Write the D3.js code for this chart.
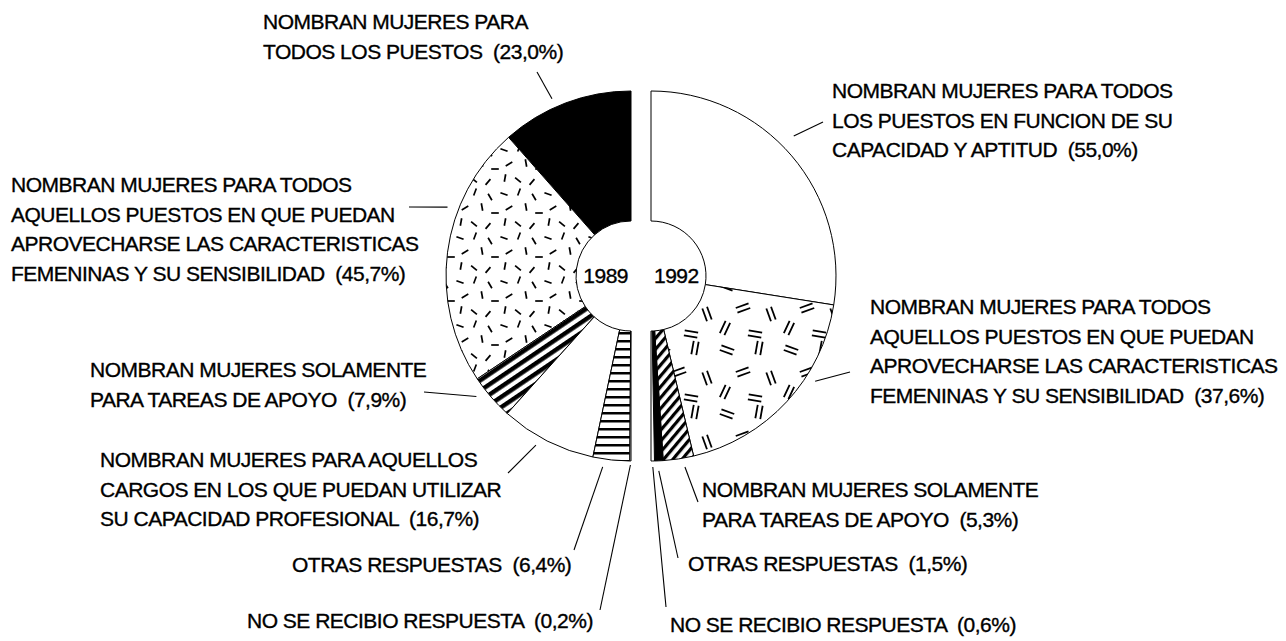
<!DOCTYPE html>
<html>
<head>
<meta charset="utf-8">
<script src="https://cdn.jsdelivr.net/npm/d3@7"></script>
<style>
  body { margin: 0; background: #fff; }
  text { font-family: 'Liberation Sans', Arial, sans-serif; font-size: 21px; letter-spacing: -0.5px;
         fill: #000; stroke: #000; stroke-width: 0.35px; white-space: pre; }
</style>
</head>
<body>
<div id="chart"></div>
<script>
/* global d3 */

// Data
const years = ['1989', '1992']

const answers1989 = [
  ['NOMBRAN MUJERES PARA', 'TODOS LOS PUESTOS'],
  ['NOMBRAN MUJERES PARA TODOS', 'AQUELLOS PUESTOS EN QUE PUEDAN', 'APROVECHARSE LAS CARACTERISTICAS', 'FEMENINAS Y SU SENSIBILIDAD'],
  ['NOMBRAN MUJERES SOLAMENTE', 'PARA TAREAS DE APOYO'],
  ['NOMBRAN MUJERES PARA AQUELLOS', 'CARGOS EN LOS QUE PUEDAN UTILIZAR', 'SU CAPACIDAD PROFESIONAL'],
  ['OTRAS RESPUESTAS'],
  ['NO SE RECIBIO RESPUESTA']
]
const values1989 = [23.0, 45.7, 7.9, 16.7, 6.4, 0.2]

const answers1992 = [
  ['NOMBRAN MUJERES PARA TODOS', 'LOS PUESTOS EN FUNCION DE SU', 'CAPACIDAD Y APTITUD'],
  ['NOMBRAN MUJERES PARA TODOS', 'AQUELLOS PUESTOS EN QUE PUEDAN', 'APROVECHARSE LAS CARACTERISTICAS', 'FEMENINAS Y SU SENSIBILIDAD'],
  ['NOMBRAN MUJERES SOLAMENTE', 'PARA TAREAS DE APOYO'],
  ['OTRAS RESPUESTAS'],
  ['NO SE RECIBIO RESPUESTA']
]
const values1992 = [55.0, 37.6, 5.3, 1.5, 0.6]

// Canvas
const width = 1286,
      height = 641,
      cy = 276,
      outerR = 185,
      innerR = 55,
      lineH = 29.5

const fills1989 = ['#000', 'url(#dashes)', 'url(#thick)', '#fff', 'url(#hlines)', '#fff']
const fills1992 = ['#fff', 'url(#pairs)', 'url(#hatch)', '#000', '#fff']

// label layout: [x, first baseline], leader: [t within slice, radius, endX, endY]
const labelPos1989 = [[263, 29], [11, 192], [90, 377], [100, 467], [292, 572], [247, 628]]
const leaders1989 = [[0.58, 194, 537, 72], [0.34, 196, 409, 207], [0.29, 196, 424, 392],
                     [0.42, 194, 508, 473], [0.3, 193, 574, 550], [0.5, 189, 600, 610]]
const labelPos1992 = [[832, 98], [870, 314], [702, 497], [688, 571], [670, 632]]
const leaders1992 = [[0.46, 200, 823, 122], [0.35, 195, 850, 372], [0.34, 194, 698, 502],
                     [0.55, 195, 678, 558], [0.5, 191, 666, 607]]

let svg = d3.select('#chart')
  .append('svg')
  .attr('width', width)
  .attr('height', height)

let defs = svg.append('defs')

// short scattered dashes
const dashMarks = [[5, 6, 20], [20, 4, 110], [35, 9, 60], [10, 20, 150], [27, 19, 80],
                   [40, 25, 0], [6, 34, 100], [19, 36, 40], [33, 38, 130]]
let dashes = defs.append('pattern')
  .attr('id', 'dashes')
  .attr('patternUnits', 'userSpaceOnUse')
  .attr('width', 44).attr('height', 44)
dashes.append('rect').attr('width', 44).attr('height', 44).attr('fill', '#fff')
dashMarks.forEach(([x, y, a]) => {
  let r = a * Math.PI / 180, l = 3.8
  dashes.append('line')
    .attr('x1', x - l * Math.cos(r)).attr('y1', y - l * Math.sin(r))
    .attr('x2', x + l * Math.cos(r)).attr('y2', y + l * Math.sin(r))
    .attr('stroke', '#000').attr('stroke-width', 1.7)
})

// "=" pairs
const pairMarks = [[12, 10, 20], [44, 8, 100], [28, 32, 160], [56, 38, 70], [10, 52, 115], [40, 58, 10]]
let pairs = defs.append('pattern')
  .attr('id', 'pairs')
  .attr('patternUnits', 'userSpaceOnUse')
  .attr('width', 64).attr('height', 64)
pairs.append('rect').attr('width', 64).attr('height', 64).attr('fill', '#fff')
pairMarks.forEach(([x, y, a]) => {
  let r = a * Math.PI / 180, l = 6.8, o = 2.5
  ;[-o, o].forEach(off => {
    let ox = -Math.sin(r) * off, oy = Math.cos(r) * off
    pairs.append('line')
      .attr('x1', x + ox - l * Math.cos(r)).attr('y1', y + oy - l * Math.sin(r))
      .attr('x2', x + ox + l * Math.cos(r)).attr('y2', y + oy + l * Math.sin(r))
      .attr('stroke', '#000').attr('stroke-width', 1.8)
  })
})

// striped patterns
let stripes = (id, period, sw, angle) => {
  let p = defs.append('pattern')
    .attr('id', id)
    .attr('patternUnits', 'userSpaceOnUse')
    .attr('width', period).attr('height', period)
    .attr('patternTransform', `rotate(${angle})`)
  p.append('rect').attr('width', period).attr('height', period).attr('fill', '#fff')
  p.append('rect').attr('y', 0).attr('width', period).attr('height', sw).attr('fill', '#000')
}
stripes('thick', 8.5, 4.4, -34)
stripes('hlines', 8, 2.5, 0)
stripes('hatch', 7, 3.2, -50)

let fmt = v => d3.format('.1f')(v).replace('.', ',')

let arc = d3.arc()

let drawHalf = (cx, values, answers, fills, sign, labelPos, leaders, year) => {
  let pie = d3.pie().sort(null).value(d => d)
    .startAngle(0).endAngle(sign * Math.PI)
  let slices = pie(values)

  let g = svg.append('g').attr('transform', `translate(${cx}, ${cy})`)
  g.selectAll('path')
    .data(slices)
    .enter()
    .append('path')
    .attr('d', d => arc({ innerRadius: innerR, outerRadius: outerR,
                         startAngle: Math.min(d.startAngle, d.endAngle),
                         endAngle: Math.max(d.startAngle, d.endAngle) }))
    .attr('fill', (d, i) => fills[i])
    .attr('stroke', '#000')
    .attr('stroke-width', 1)

  // leaders
  slices.forEach((d, i) => {
    let [t, r, ex, ey] = leaders[i]
    let a = d.startAngle + t * (d.endAngle - d.startAngle)
    svg.append('line')
      .attr('x1', cx + r * Math.sin(a)).attr('y1', cy - r * Math.cos(a))
      .attr('x2', ex).attr('y2', ey)
      .attr('stroke', '#000').attr('stroke-width', 1.1)
  })

  // labels
  answers.forEach((lines, i) => {
    let [x, y] = labelPos[i]
    let txt = svg.append('text')
    lines.forEach((s, j) => {
      let last = j === lines.length - 1
      txt.append('tspan')
        .attr('x', x)
        .attr('y', y + j * lineH)
        .text(last ? `${s}  (${fmt(values[i])}%)` : s)
    })
  })

  svg.append('text')
    .attr('x', cx + (sign < 0 ? -3 : 3))
    .attr('y', 283)
    .attr('text-anchor', sign < 0 ? 'end' : 'start')
    .text(year)
}

drawHalf(631, values1989, answers1989, fills1989, -1, labelPos1989, leaders1989, years[0])
drawHalf(651, values1992, answers1992, fills1992, 1, labelPos1992, leaders1992, years[1])
</script>
</body>
</html>
